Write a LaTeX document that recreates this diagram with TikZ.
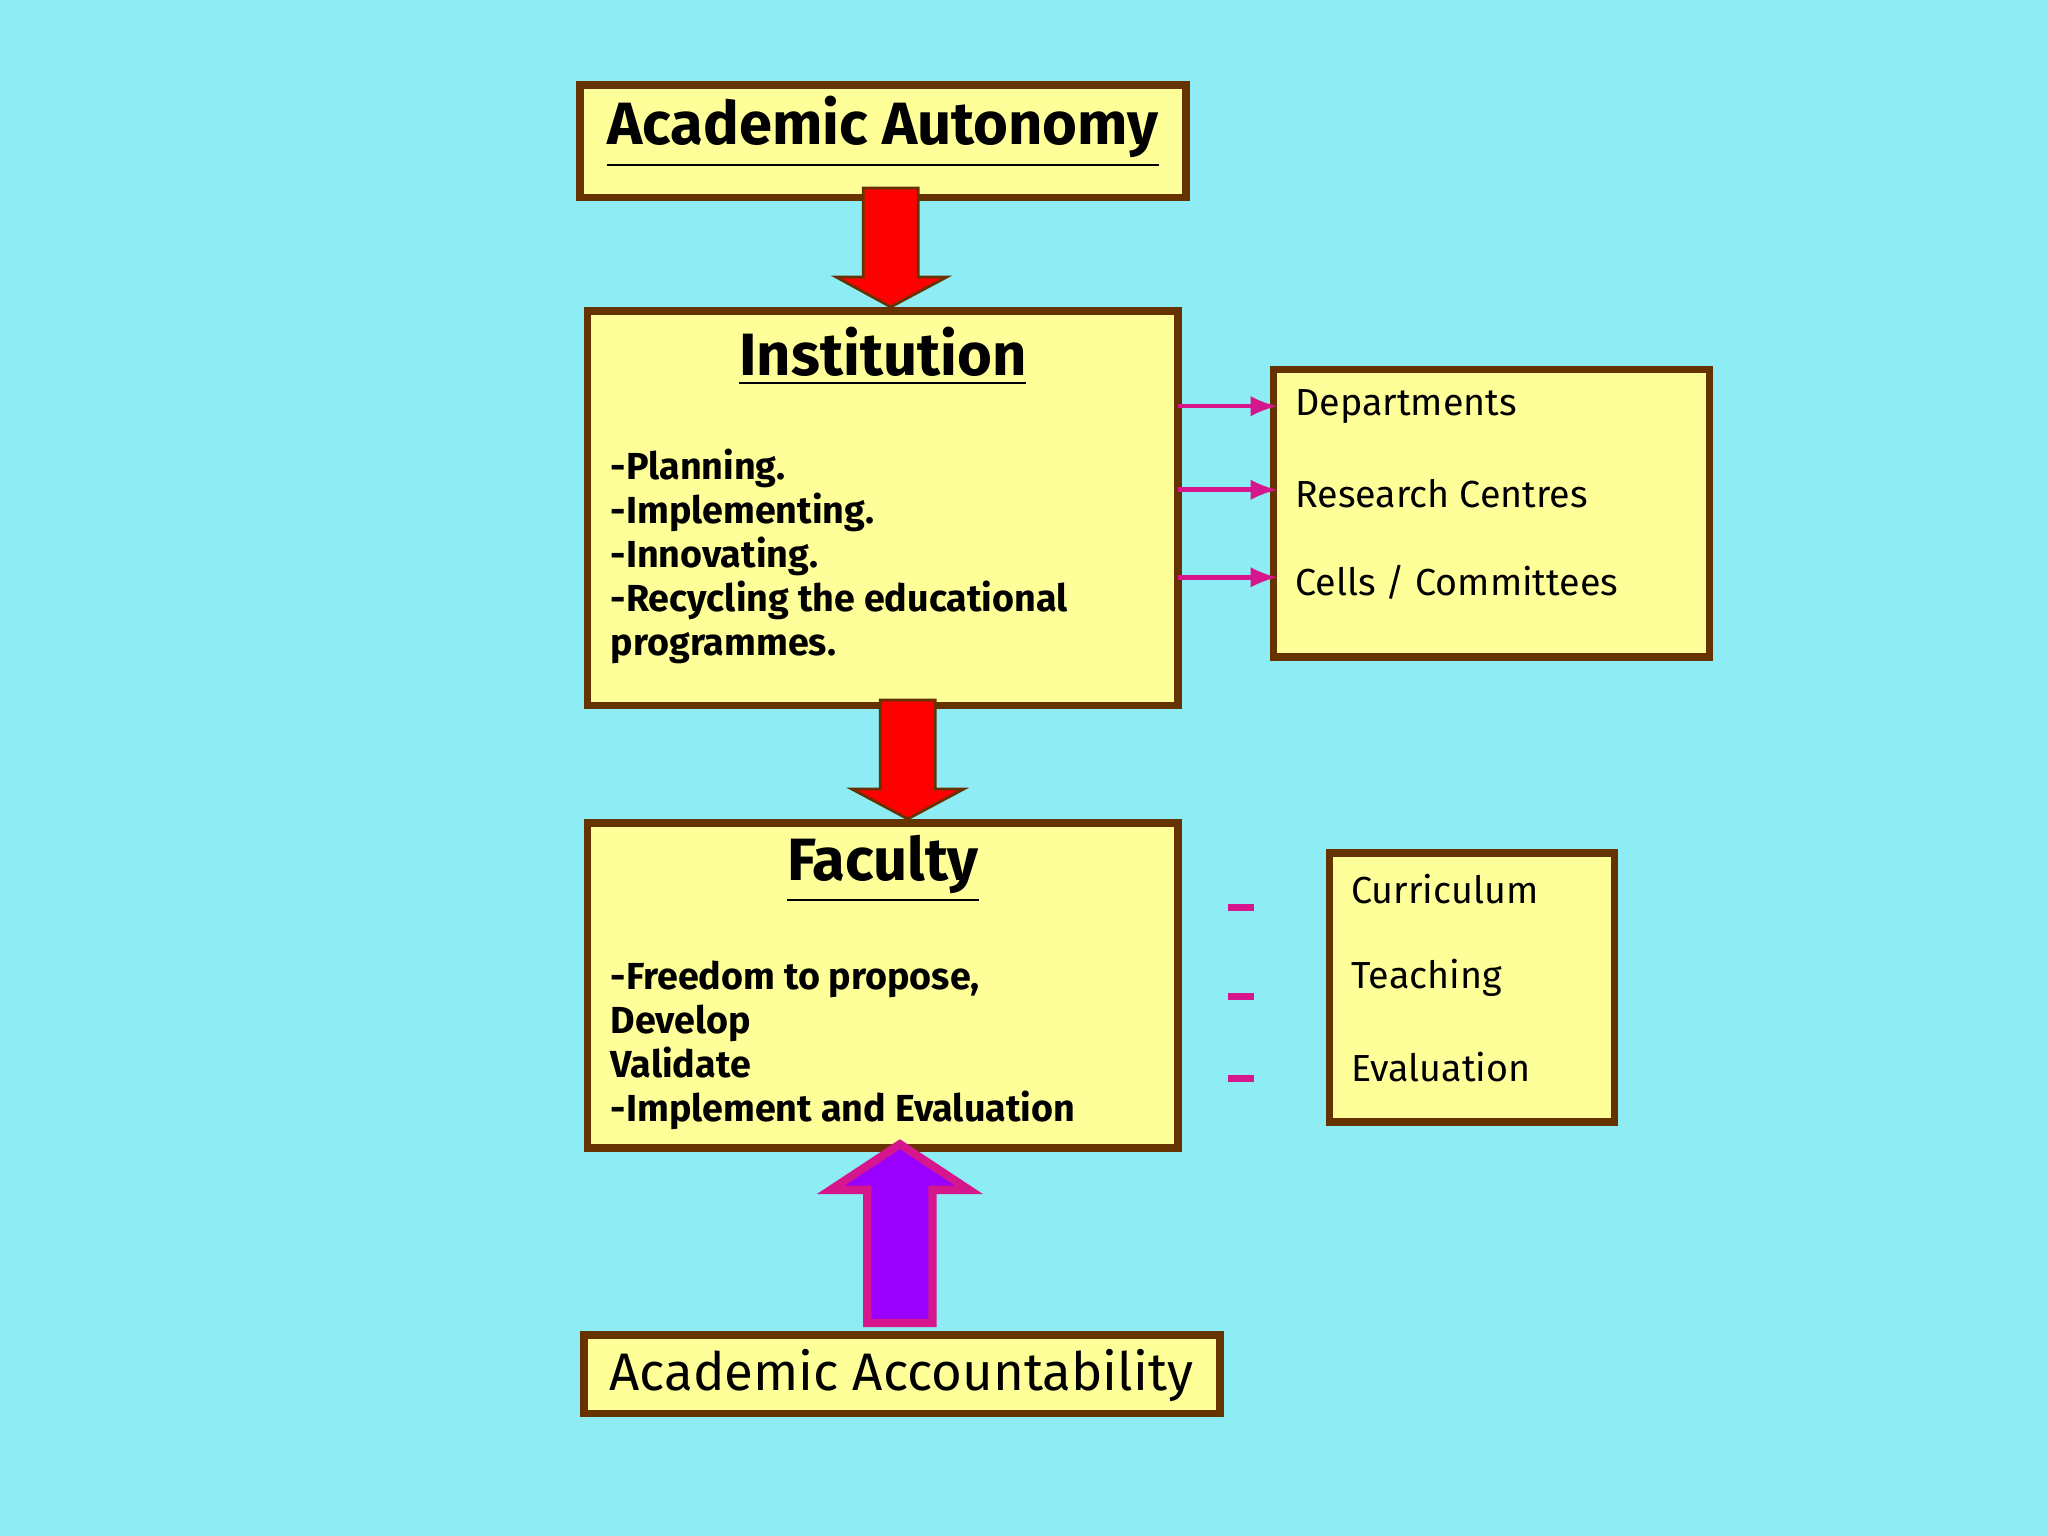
\documentclass[tikz,border=0pt]{standalone}
\usepackage{fontspec}
\setmainfont{Fira Sans}
\definecolor{bg}{HTML}{8EECF4}
\definecolor{boxfill}{HTML}{FFFF99}
\definecolor{brd}{HTML}{663300}
\definecolor{mag}{HTML}{D6168C}
\definecolor{purp}{HTML}{9900FF}
\begin{document}
\begin{tikzpicture}[x=0.01cm,y=-0.01cm,
  bx/.style={draw=brd,fill=boxfill,line width=1.6pt},
  ttl/.style={font=\fontsize{13}{15}\selectfont\bfseries},
  lst/.style={font=\fontsize{8.2}{9.6}\selectfont\bfseries,align=left,anchor=north west,inner sep=0pt},
  rlst/.style={font=\fontsize{8.2}{9.6}\selectfont,anchor=west,inner sep=0pt},
  marr/.style={draw=mag,line width=1pt,-latex}]
\fill[bg] (0,0) rectangle (1568,1176);
\useasboundingbox (0,0) rectangle (1568,1176);
% boxes
\draw[bx] (444,65) rectangle (908,151);
\node[ttl] (aa) at (676,101) {\underline{Academic Autonomy}};
\draw[bx] (450,238) rectangle (902,540);
\coordinate (instR) at (902,311);
\node[ttl] (inst) at (676,273) {\underline{Institution}};
\node[lst] (il) at (467,343) {-Planning.\\-Implementing.\\-Innovating.\\-Recycling the educational\\programmes.};
\draw[bx] (975,283) rectangle (1309,503);
\node[rlst] (d1) at (991,311) {Departments};
\node[rlst] (d2) at (991,378) {Research Centres};
\node[rlst] (d3) at (991,446) {Cells / Committees};
\coordinate (s1) at (902,311); \coordinate (e1) at (978,311);
\coordinate (s2) at (902,375); \coordinate (e2) at (978,375);
\coordinate (s3) at (902,442); \coordinate (e3) at (978,442);
\draw[marr] (s1) -- (e1); \draw[marr] (s2) -- (e2); \draw[marr] (s3) -- (e3);
\draw[bx] (450,630) rectangle (902,879);
\node[ttl] (fac) at (676,665) {\underline{Faculty}};
\node[lst] (fl) at (467,735) {-Freedom to propose,\\Develop\\Validate\\-Implement and Evaluation};
\draw[bx] (1018,653) rectangle (1236,859);
\node[rlst] (c1) at (1034,681) {Curriculum};
\node[rlst] (c2) at (1034,749) {Teaching};
\node[rlst] (c3) at (1034,817) {Evaluation};
\foreach \y in {695,763,826} \draw[mag,line width=1.5pt] (940,\y) -- (960,\y);
\draw[bx] (447,1022) rectangle (934,1082);
\node[font=\fontsize{11.5}{13}\selectfont] (acc) at (690,1053) {Academic Accountability};
% red arrows
\draw[fill=red,draw=brd,line width=0.6pt] (661,144) -- (703,144) -- (703,212) -- (725,212) -- (682,235) -- (640,212) -- (661,212) -- cycle;
\draw[fill=red,draw=brd,line width=0.6pt] (674,536) -- (716,536) -- (716,604) -- (738,604) -- (695,627) -- (652,604) -- (674,604) -- cycle;
% purple arrow
\draw[fill=purp,draw=mag,line width=1.8pt] (664,1013) -- (714,1013) -- (714,911) -- (742,911) -- (689,876) -- (636,911) -- (664,911) -- cycle;
\end{tikzpicture}
\end{document}
